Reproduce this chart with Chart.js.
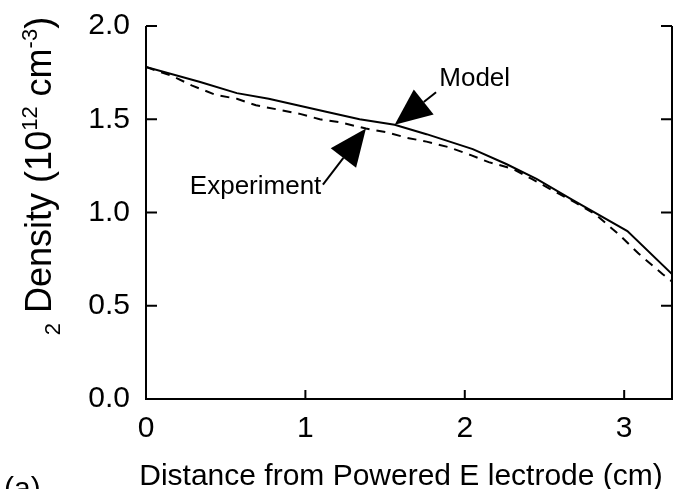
<!DOCTYPE html>
<html>
<head>
<meta charset="utf-8">
<script src="https://cdn.jsdelivr.net/npm/chart.js@4.4.0/dist/chart.umd.min.js"></script>
<style>
  html, body { margin: 0; padding: 0; background: #fff; }
  #wrap { position: relative; width: 678px; height: 489px; overflow: hidden; }
  #panel { position: absolute; left: 4px; top: 471px; font: 30px "Liberation Sans", Arial, sans-serif; color: #000; }
</style>
</head>
<body>
<div id="wrap">
  <canvas id="c" width="678" height="489"></canvas>
  <div id="panel">(a)</div>
</div>
<script>
// model curve (solid)
const modelX = [0, 0.34, 0.57, 0.77, 0.95, 1.13, 1.34, 1.56, 1.76, 2.05, 2.26, 2.45, 2.67, 3.02, 3.3];
const modelY = [1.78, 1.70, 1.64, 1.61, 1.575, 1.54, 1.50, 1.47, 1.42, 1.34, 1.26, 1.18, 1.07, 0.90, 0.67];

// experiment curve (dashed)
const expX = [0, 0.17, 0.29, 0.44, 0.57, 0.69, 0.84, 0.96, 1.09, 1.21, 1.38, 1.51, 1.64, 1.76, 1.90,
              2.03, 2.15, 2.30, 2.42, 2.57, 2.70, 2.82, 2.97, 3.09, 3.24, 3.3];
const expY = [1.78, 1.73, 1.68, 1.63, 1.61, 1.575, 1.55, 1.53, 1.50, 1.485, 1.45, 1.43, 1.40, 1.38, 1.35,
              1.31, 1.27, 1.235, 1.18, 1.11, 1.05, 0.99, 0.88, 0.78, 0.67, 0.63];

const xTicks = [0, 1, 2, 3];
const yTicks = [0, 0.5, 1.0, 1.5, 2.0];
const xTitle = 'Distance from Powered E lectrode (cm)';

// labels with arrows, in data units
const noteText = ['Model', 'Experiment'];
const noteAt = [[1.84, 1.68], [1.10, 1.10]];
const noteAlign = ['left', 'right'];
const arrowFrom = [[1.82, 1.645], [1.11, 1.15]];
const arrowTo = [[1.56, 1.47], [1.38, 1.45]];

const FONT = '"Liberation Sans", Arial, sans-serif';

function pts(xs, ys) {
  return xs.map((x, i) => ({x: x, y: ys[i]}));
}

const framePlugin = {
  id: 'frame',
  afterDatasetsDraw(chart) {
    const {ctx, chartArea: a, scales: {x, y}} = chart;
    ctx.save();
    ctx.strokeStyle = '#000';
    ctx.lineWidth = 2;
    ctx.beginPath();
    ctx.moveTo(a.left, a.top);
    ctx.lineTo(a.left, a.bottom);
    ctx.lineTo(a.right, a.bottom);
    ctx.lineTo(a.right, a.top);
    xTicks.forEach(v => {
      const px = x.getPixelForValue(v);
      ctx.moveTo(px, a.bottom);
      ctx.lineTo(px, a.bottom - 9);
    });
    yTicks.forEach(v => {
      const py = y.getPixelForValue(v);
      ctx.moveTo(a.left, py);
      ctx.lineTo(a.left + 11, py);
      ctx.moveTo(a.right, py);
      ctx.lineTo(a.right - 11, py);
    });
    ctx.stroke();

    // arrows and their labels
    ctx.fillStyle = '#000';
    ctx.font = '26px ' + FONT;
    ctx.textBaseline = 'alphabetic';
    noteText.forEach((t, i) => {
      ctx.textAlign = noteAlign[i];
      ctx.fillText(t, x.getPixelForValue(noteAt[i][0]), y.getPixelForValue(noteAt[i][1]));
      const x0 = x.getPixelForValue(arrowFrom[i][0]), y0 = y.getPixelForValue(arrowFrom[i][1]);
      const x1 = x.getPixelForValue(arrowTo[i][0]), y1 = y.getPixelForValue(arrowTo[i][1]);
      const ang = Math.atan2(y1 - y0, x1 - x0);
      const L = 37, W = 16;
      const bx = x1 - L * Math.cos(ang), by = y1 - L * Math.sin(ang);
      ctx.lineWidth = 2;
      ctx.beginPath();
      ctx.moveTo(x0, y0);
      ctx.lineTo(bx, by);
      ctx.stroke();
      ctx.beginPath();
      ctx.moveTo(x1, y1);
      ctx.lineTo(bx + W * Math.sin(ang), by - W * Math.cos(ang));
      ctx.lineTo(bx - W * Math.sin(ang), by + W * Math.cos(ang));
      ctx.closePath();
      ctx.fill();
    });

    // x axis title, a bit left of the plot centre as in the original
    ctx.font = '30px ' + FONT;
    ctx.textAlign = 'center';
    ctx.fillText(xTitle, (a.left + a.right) / 2 - 8, 485);

    // y axis title with sub/superscripts
    const fs = 36;
    const parts = [
      {t: '2', s: 0.62, dy: 9},
      {t: ' Density (10', s: 1, dy: 0},
      {t: '12', s: 0.62, dy: -14},
      {t: ' cm', s: 1, dy: 0},
      {t: '-3', s: 0.62, dy: -14},
      {t: ')', s: 1, dy: 0}
    ];
    let total = 0;
    parts.forEach(p => {
      ctx.font = Math.round(fs * p.s) + 'px ' + FONT;
      p.w = ctx.measureText(p.t).width;
      total += p.w;
    });
    ctx.translate(51, 176);
    ctx.rotate(-Math.PI / 2);
    ctx.textAlign = 'left';
    let cx = -total / 2;
    parts.forEach(p => {
      ctx.font = Math.round(fs * p.s) + 'px ' + FONT;
      ctx.fillText(p.t, cx, p.dy);
      cx += p.w;
    });
    ctx.restore();
  }
};

new Chart(document.getElementById('c'), {
  type: 'scatter',
  data: {
    datasets: [
      {
        label: 'Model',
        data: pts(modelX, modelY),
        showLine: true,
        borderColor: '#000',
        borderWidth: 2,
        pointRadius: 0,
        tension: 0
      },
      {
        label: 'Experiment',
        data: pts(expX, expY),
        showLine: true,
        borderColor: '#000',
        borderWidth: 2,
        borderDash: [9, 7],
        pointRadius: 0,
        tension: 0
      }
    ]
  },
  options: {
    responsive: false,
    animation: false,
    layout: { padding: { top: 23, right: 6, left: 0, bottom: 0 } },
    plugins: { legend: { display: false }, tooltip: { enabled: false } },
    scales: {
      x: {
        type: 'linear',
        min: 0,
        max: 3.3,
        afterBuildTicks: s => { s.ticks = xTicks.map(v => ({value: v})); },
        afterFit: s => { s.height = 90; },
        grid: { display: false },
        border: { display: false },
        ticks: { color: '#000', font: { size: 30, family: FONT }, padding: 4, maxRotation: 0 }
      },
      y: {
        min: 0,
        max: 2,
        afterBuildTicks: s => { s.ticks = yTicks.map(v => ({value: v})); },
        afterFit: s => { s.width = 146; },
        grid: { display: false },
        border: { display: false },
        ticks: { color: '#000', font: { size: 30, family: FONT }, padding: 8, callback: v => v.toFixed(1) }
      }
    }
  },
  plugins: [framePlugin]
});
</script>
</body>
</html>
